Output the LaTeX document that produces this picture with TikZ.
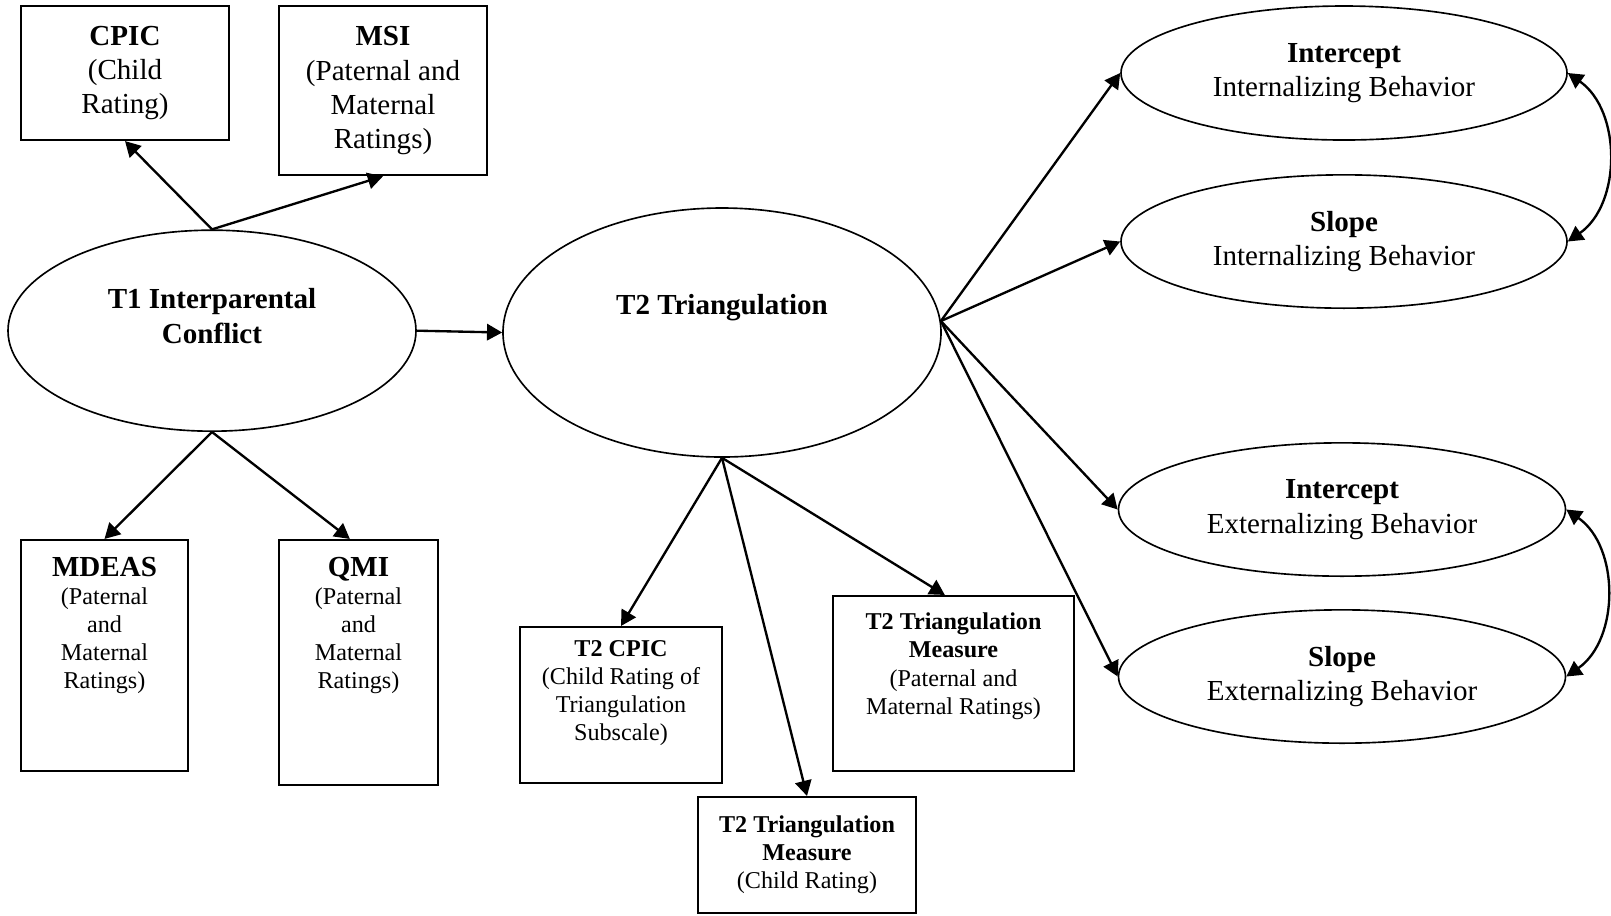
\documentclass[tikz,border=0pt]{standalone}
\usepackage{fontspec}
\setmainfont{Liberation Serif}
\usetikzlibrary{arrows.meta,shapes.geometric}

\begin{document}
\begin{tikzpicture}[>={Triangle[length=6.5pt,width=7pt]},
        box/.style={draw,line width = 0.9pt,inner sep=0pt},
        oval/.style={draw,ellipse,line width = 0.7pt,inner sep=0pt,align=center,
            font=\fontsize{12.4}{14.6}\selectfont},
        big/.style={align=center,font=\fontsize{12.4}{14.6}\selectfont},
        small/.style={align=center,font=\fontsize{10.3}{12}\selectfont},
        arr/.style={->,line width = 1pt}]
    \useasboundingbox (0,0) rectangle (24.165,-13.725);
    % T1 and its indicators
    \node[oval,minimum width=6.12cm,minimum height=3.015cm] (t1) at (3.18,-4.96) {};
    \node[big] (t1txt) at ([yshift=0.22cm]t1.center) {\textbf{T1 Interparental}\\\textbf{Conflict}};
    \node[box,big,minimum width=3.12cm,minimum height=2.01cm] (cpic) at (1.875,-1.095)
        {\textbf{CPIC}\\(Child\\Rating)};
    \node[box,big,minimum width=3.12cm,minimum height=2.535cm] (msi) at (5.745,-1.36)
        {\textbf{MSI}\\(Paternal and\\Maternal\\Ratings)};
    \node[box,minimum width=2.505cm,minimum height=3.465cm] (mdeas) at (1.5675,-9.8325) {};
    \node[small] (mdeastxt) at ([yshift=0.45cm]mdeas.center)
        {{\fontsize{12.4}{14.6}\selectfont\bfseries MDEAS}\\(Paternal\\and\\Maternal\\Ratings)};
    \node[box,minimum width=2.385cm,minimum height=3.675cm] (qmi) at (5.3775,-9.9375) {};
    \node[small] (qmitxt) at ([yshift=0.555cm]qmi.center)
        {{\fontsize{12.4}{14.6}\selectfont\bfseries QMI}\\(Paternal\\and\\Maternal\\Ratings)};
    % T2 and its indicators
    \node[oval,minimum width=6.57cm,minimum height=3.735cm] (t2) at (10.83,-4.9875) {};
    \node[big] (t2txt) at ([yshift=0.37cm]t2.center) {\textbf{T2 Triangulation}};
    \node[box,minimum width=3.03cm,minimum height=2.34cm] (t2cpic) at (9.315,-10.575) {};
    \node[small] (t2cpictxt) at ([yshift=0.18cm]t2cpic.center)
        {\textbf{T2 CPIC}\\(Child Rating of\\Triangulation\\Subscale)};
    \node[box,small,minimum width=3.27cm,minimum height=1.74cm] (tchild) at (12.105,-12.825)
        {\textbf{T2 Triangulation}\\\textbf{Measure}\\(Child Rating)};
    \node[box,minimum width=3.615cm,minimum height=2.625cm] (tpar) at (14.3025,-10.2525) {};
    \node[small] (tpartxt) at ([yshift=0.26cm]tpar.center)
        {\textbf{T2 Triangulation}\\\textbf{Measure}\\(Paternal and\\Maternal Ratings)};
    % growth factors
    \node[oval,minimum width=6.69cm,minimum height=2.01cm] (intI) at (20.16,-1.095)
        {\textbf{Intercept}\\Internalizing Behavior};
    \node[oval,minimum width=6.69cm,minimum height=2.0cm] (slpI) at (20.16,-3.6225)
        {\textbf{Slope}\\Internalizing Behavior};
    \node[oval,minimum width=6.705cm,minimum height=2.0cm] (intE) at (20.13,-7.6425)
        {\textbf{Intercept}\\Externalizing Behavior};
    \node[oval,minimum width=6.705cm,minimum height=2.0cm] (slpE) at (20.13,-10.1475)
        {\textbf{Slope}\\Externalizing Behavior};

    \draw[arr] (t1.north) -- (cpic.south);
    \draw[arr] (t1.north) -- (msi.south);
    \draw[arr] (t1.south) -- (mdeas.north);
    \draw[arr] (t1.south) -- ([xshift=-0.13cm]qmi.north);
    \draw[arr] (t1.east) -- (t2.west);
    \draw[arr] (t2.south) -- (t2cpic.north);
    \draw[arr] (t2.south) -- (tchild.north);
    \draw[arr] (t2.south) -- ([xshift=-0.13cm]tpar.north);
    \foreach \n in {intI,slpI,intE,slpE}
        \draw[arr] (t2.3) -- (\n.west);
    \draw[<->,line width = 1pt] (intI.east) to[out=-35,in=35] (slpI.east);
    \draw[<->,line width = 1pt] (intE.east) to[out=-35,in=35] (slpE.east);
\end{tikzpicture}
\end{document}
